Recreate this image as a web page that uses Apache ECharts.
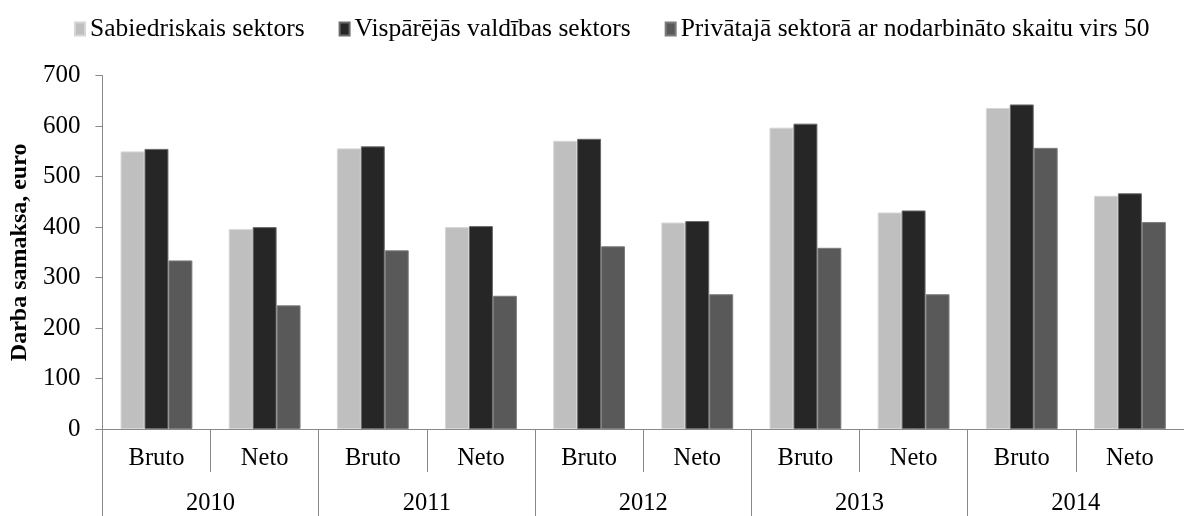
<!DOCTYPE html>
<html>
<head>
<meta charset="utf-8">
<script src="https://cdn.jsdelivr.net/npm/echarts@6/dist/echarts.min.js"></script>
<style>
  html, body { margin: 0; padding: 0; background: #fff; }
  #chart { width: 1184px; height: 516px; }
</style>
</head>
<body>
<div id="chart"></div>
<script>
var categories = ['Bruto', 'Neto', 'Bruto', 'Neto', 'Bruto', 'Neto', 'Bruto', 'Neto', 'Bruto', 'Neto'];
var years = ['2010', '2011', '2012', '2013', '2014'];
var seriesNames = ['Sabiedriskais sektors', 'Vispārējās valdības sektors', 'Privātajā sektorā ar nodarbināto skaitu virs 50'];
var sabiedriskais = [550, 396, 556, 400, 571, 409, 597, 429, 636, 462];
var visparejas = [555, 400, 560, 402, 575, 412, 605, 433, 643, 467];
var privatais = [334, 245, 354, 264, 362, 267, 359, 267, 557, 410];

var font = 'Liberation Serif, Times New Roman, serif';
var axisGray = '#898989';

var chart = echarts.init(document.getElementById('chart'));

function bar(name, values, color, border) {
    return {
        name: name,
        type: 'bar',
        data: values,
        barGap: 0,
        barCategoryGap: '33.6%',
        itemStyle: { color: color, borderColor: border, borderWidth: 1 }
    };
}

var option = {
    animation: false,
    textStyle: { fontFamily: font },
    legend: {
        left: 74,
        top: 16,
        padding: 0,
        icon: 'rect',
        itemWidth: 10,
        itemHeight: 13,
        itemGap: 34,
        textStyle: { fontFamily: font, fontSize: 25.5, color: '#000' },
        data: seriesNames
    },
    grid: { left: 100, right: -12, top: 75.7, bottom: 86.7, containLabel: false },
    xAxis: [
        {
            type: 'category',
            data: categories,
            axisLine: { lineStyle: { color: axisGray, width: 1 } },
            axisTick: { show: true, interval: 0, length: 43, lineStyle: { color: axisGray } },
            axisLabel: { interval: 0, margin: 17, fontSize: 24.5, color: '#000', fontFamily: font }
        },
        {
            type: 'category',
            data: years,
            position: 'bottom',
            axisLine: { show: false },
            axisTick: { show: true, interval: 0, length: 90, lineStyle: { color: axisGray } },
            axisLabel: { interval: 0, margin: 62, fontSize: 24.5, color: '#000', fontFamily: font }
        }
    ],
    yAxis: {
        type: 'value',
        min: 0,
        max: 700,
        interval: 100,
        name: 'Darba samaksa, euro',
        nameLocation: 'middle',
        nameGap: 70,
        nameTextStyle: { fontFamily: font, fontSize: 24, fontWeight: 'bold', color: '#000' },
        axisLine: { show: true, lineStyle: { color: axisGray, width: 1 } },
        axisTick: { show: true, length: 7, lineStyle: { color: axisGray } },
        axisLabel: { margin: 22, fontSize: 25, color: '#000', fontFamily: font },
        splitLine: { show: false }
    },
    series: [
        bar(seriesNames[0], sabiedriskais, '#bfbfbf', '#d6d6d6'),
        bar(seriesNames[1], visparejas, '#262626', '#6a6a6a'),
        bar(seriesNames[2], privatais, '#595959', '#7c7c7c')
    ]
};

chart.setOption(option);
window.onresize = chart.resize;
</script>
</body>
</html>
